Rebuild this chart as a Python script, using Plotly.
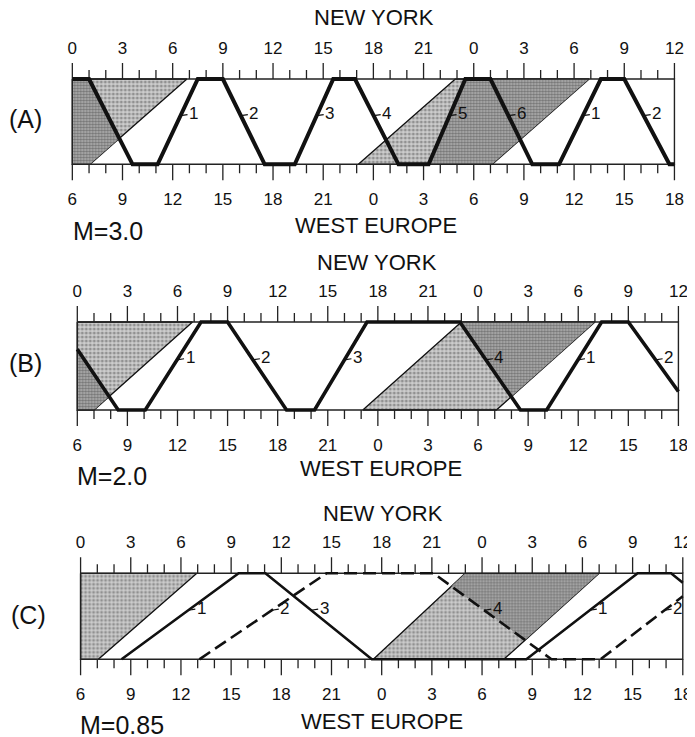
import plotly.graph_objects as go

W, H = 695, 737

# ---------------- data ----------------
tick_hours = list(range(0, 37))
major_hours = [0, 3, 6, 9, 12, 15, 18, 21, 24, 27, 30, 33, 36]
ny_tick_labels = ["0", "3", "6", "9", "12", "15", "18", "21", "0", "3", "6", "9", "12"]
we_tick_labels = ["6", "9", "12", "15", "18", "21", "0", "3", "6", "9", "12", "15", "18"]

panel_letters = ["(A)", "(B)", "(C)"]
mach_labels = ["M=3.0", "M=2.0", "M=0.85"]

# routes: x = New York local time (h), y = 1 at New York, 0 at West Europe
A_route_x = [-0.5, 1.0, 3.6, 5.1, 7.5, 9.0, 11.5, 13.3, 15.6, 16.9, 19.5, 21.3,
             23.5, 25.0, 27.5, 29.1, 31.6, 33.0, 35.7, 37.0]
A_route_y = [1, 1, 0, 0, 1, 1, 0, 0, 1, 1, 0, 0, 1, 1, 0, 0, 1, 1, 0, 0]
A_label_text = ["1", "2", "3", "4", "5", "6", "1", "2"]
A_label_seg = [3, 5, 7, 9, 11, 13, 15, 17]

B_route_x = [-1.1, 2.45, 4.07, 7.41, 9.0, 12.53, 14.21, 17.35, 22.91, 26.54,
             28.11, 31.4, 33.0, 36.8]
B_route_y = [1, 0, 0, 1, 1, 0, 0, 1, 1, 0, 0, 1, 1, 0]
B_label_text = ["1", "2", "3", "4", "1", "2"]
B_label_seg = [2, 4, 6, 8, 10, 12]

C_route_x = [2.45, 9.45, 11.05, 17.41, 26.65, 33.3, 35.3, 41.66]
C_route_y = [0, 1, 1, 0, 0, 1, 1, 0]
C_label_text = ["1", "3", "1"]
C_label_seg = [0, 2, 4]

C_dash_x = [7.1, 14.7, 21.1, 28.15, 31.08, 37.8]
C_dash_y = [0, 1, 1, 0, 0, 1]
C_dash_label_text = ["2", "4", "2"]
C_dash_label_seg = [0, 2, 4]

# night-restriction zones (parallelograms): NY edge start/end, Europe edge start/end
A_shade_top_start = [-1.1, 22.9]
A_shade_top_end = [6.85, 30.9]
A_shade_bot_start = [-6.9, 17.1]
A_shade_bot_end = [1.05, 25.1]

B_shade_top_start = [-1.0, 23.0]
B_shade_top_end = [6.9, 31.0]
B_shade_bot_start = [-6.9, 17.1]
B_shade_bot_end = [1.0, 25.1]

C_shade_top_start = [-1.0, 23.0]
C_shade_top_end = [6.95, 31.0]
C_shade_bot_start = [-6.6, 17.5]
C_shade_bot_end = [1.06, 25.3]

# darker parts of the zones: (zone index, route, segment index, side)
A_dark = [(0, "solid", 1, "left"), (1, "solid", 11, "right")]
B_dark = [(0, "solid", 0, "left"), (1, "solid", 8, "right")]
C_dark = [(1, "dash", 2, "right")]

panels = [
    dict(route=(A_route_x, A_route_y), dash=None,
         labels=[("solid", A_label_text, A_label_seg)],
         shade=(A_shade_top_start, A_shade_top_end, A_shade_bot_start, A_shade_bot_end),
         dark=A_dark),
    dict(route=(B_route_x, B_route_y), dash=None,
         labels=[("solid", B_label_text, B_label_seg)],
         shade=(B_shade_top_start, B_shade_top_end, B_shade_bot_start, B_shade_bot_end),
         dark=B_dark),
    dict(route=(C_route_x, C_route_y), dash=(C_dash_x, C_dash_y),
         labels=[("solid", C_label_text, C_label_seg), ("dash", C_dash_label_text, C_dash_label_seg)],
         shade=(C_shade_top_start, C_shade_top_end, C_shade_bot_start, C_shade_bot_end),
         dark=C_dark),
]

# ---------------- layout / style ----------------
# page body has an 8 px margin; positions below are target page pixels
OFF = 8.0
box_px = [
    dict(xl=72.7, xr=678.3, yt=79.0, yb=164.3),
    dict(xl=77.7, xr=682.3, yt=322.0, yb=410.0),
    dict(xl=81.0, xr=686.7, yt=573.3, yb=659.3),
]
line_widths = [4.0, 3.6, 2.6]
title_ny_px = [(376, 17), (379, 263), (385, 513)]
title_we_px = [(378, 225), (383, 468), (384, 721)]
mach_px = [(72, 231), (76, 476), (79, 725)]
letter_px = [(26, 119), (26, 363), (29, 615)]

XMIN, XMAX = 0.0, 36.0
PADX = 0.3
PADY = 19.0
MAJOR_LEN, MINOR_LEN = 16.0, 9.0
LABEL_Y = 0.57
INK = "#111111"

LIGHT_PAT = dict(shape=".", bgcolor="#cdcdcd", fgcolor="#555555", size=4, solidity=0.45)
DARK_PAT = dict(shape=".", bgcolor="#b0b0b0", fgcolor="#3a3a3a", size=3, solidity=0.5)

TICK_FONT = dict(family="Liberation Sans Narrow, Arial Narrow, Liberation Sans, sans-serif",
                 size=17, color=INK)
TITLE_FONT = dict(family="Liberation Sans, Arial, sans-serif", size=22, color=INK)
BIG_FONT = dict(family="Liberation Sans, Arial, sans-serif", size=25, color=INK)
NUM_FONT = dict(family="Liberation Sans, Arial, sans-serif", size=17, color=INK)


def clip_poly(pts, f):
    out = []
    n = len(pts)
    for i in range(n):
        cur, prev = pts[i], pts[i - 1]
        fc, fp = f(*cur), f(*prev)
        if fc >= 0:
            if fp < 0:
                t = fp / (fp - fc)
                out.append((prev[0] + t * (cur[0] - prev[0]), prev[1] + t * (cur[1] - prev[1])))
            out.append(cur)
        elif fp >= 0:
            t = fp / (fp - fc)
            out.append((prev[0] + t * (cur[0] - prev[0]), prev[1] + t * (cur[1] - prev[1])))
    return out


def clip_x(pts):
    pts = clip_poly(pts, lambda x, y: x - XMIN)
    if pts:
        pts = clip_poly(pts, lambda x, y: XMAX - x)
    return pts


def clip_polyline(xs, ys):
    ox, oy = [], []
    for i in range(len(xs) - 1):
        x0, y0, x1, y1 = xs[i], ys[i], xs[i + 1], ys[i + 1]
        if max(x0, x1) < XMIN or min(x0, x1) > XMAX:
            continue

        def at(xc):
            t = (xc - x0) / (x1 - x0)
            return y0 + t * (y1 - y0)
        a = (x0, y0)
        b = (x1, y1)
        if x0 < XMIN:
            a = (XMIN, at(XMIN))
        if x1 > XMAX:
            b = (XMAX, at(XMAX))
        if ox and ox[-1] == a[0] and oy[-1] == a[1]:
            ox.append(b[0]); oy.append(b[1])
        else:
            if ox:
                ox.append(None); oy.append(None)
            ox += [a[0], b[0]]; oy += [a[1], b[1]]
    return ox, oy


def seg_x_at(xs, ys, i, yv):
    x0, y0, x1, y1 = xs[i], ys[i], xs[i + 1], ys[i + 1]
    return x0 + (yv - y0) * (x1 - x0) / (y1 - y0)


def px_x(v):
    return (v - OFF) / W


def px_y(v):
    return 1 - (v - OFF) / H


fig = go.Figure()
layout = dict(width=W, height=H, margin=dict(l=0, r=0, t=0, b=0),
              paper_bgcolor="white", plot_bgcolor="rgba(0,0,0,0)", showlegend=False)
annotations = []

for k, (p, bp) in enumerate(zip(panels, box_px)):
    xb = "x" if k == 0 else f"x{2 * k + 1}"
    xt = f"x{2 * k + 2}"
    yy = "y" if k == 0 else f"y{k + 1}"
    hpx = bp["yb"] - bp["yt"]
    s = (bp["xr"] - bp["xl"]) / (XMAX - XMIN)
    dom_x = [px_x(bp["xl"] - PADX * s), px_x(bp["xr"] + PADX * s)]
    dom_y = [px_y(bp["yb"] + PADY), px_y(bp["yt"] - PADY)]
    yr = [-PADY / hpx, 1 + PADY / hpx]
    xr = [XMIN - PADX, XMAX + PADX]

    routes = {"solid": p["route"]}
    if p["dash"] is not None:
        routes["dash"] = p["dash"]

    # shaded zones
    ts, te, bs, be = p["shade"]
    polys = []
    for j in range(len(ts)):
        poly = [(ts[j], 1), (te[j], 1), (be[j], 0), (bs[j], 0)]
        polys.append(poly)
        cp = clip_x(poly)
        if cp:
            fig.add_trace(go.Scatter(
                x=[q[0] for q in cp] + [cp[0][0]], y=[q[1] for q in cp] + [cp[0][1]],
                mode="lines", fill="toself", fillcolor="#cdcdcd", fillpattern=LIGHT_PAT,
                line=dict(color=INK, width=1.3), xaxis=xb, yaxis=yy, hoverinfo="skip"))
    for (zi, rname, si, side) in p["dark"]:
        rx, ry = routes[rname]
        x0, y0, x1, y1 = rx[si], ry[si], rx[si + 1], ry[si + 1]

        def fside(x, y, x0=x0, y0=y0, x1=x1, y1=y1, side=side):
            xl = x0 + (y - y0) * (x1 - x0) / (y1 - y0)
            return (x - xl) if side == "right" else (xl - x)
        cp = clip_poly(polys[zi], fside)
        cp = clip_x(cp) if cp else cp
        if cp:
            fig.add_trace(go.Scatter(
                x=[q[0] for q in cp] + [cp[0][0]], y=[q[1] for q in cp] + [cp[0][1]],
                mode="lines", fill="toself", fillcolor="#b0b0b0", fillpattern=DARK_PAT,
                line=dict(width=0), xaxis=xb, yaxis=yy, hoverinfo="skip"))

    # frame and ticks
    tx, ty = [], []
    for hr in tick_hours:
        ln = MAJOR_LEN if hr in major_hours else MINOR_LEN
        tx += [hr, hr, None, hr, hr, None]
        ty += [1, 1 + ln / hpx, None, 0, -ln / hpx, None]
    fig.add_trace(go.Scatter(x=tx, y=ty, mode="lines", line=dict(color="#222", width=1.3),
                             xaxis=xb, yaxis=yy, hoverinfo="skip"))
    fig.add_trace(go.Scatter(x=[XMIN, XMAX, XMAX, XMIN, XMIN], y=[1, 1, 0, 0, 1], mode="lines",
                             line=dict(color="#222", width=1.4), xaxis=xb, yaxis=yy,
                             hoverinfo="skip"))

    # routes
    for rname, (rx, ry) in routes.items():
        cx, cy = clip_polyline(rx, ry)
        fig.add_trace(go.Scatter(
            x=cx, y=cy, mode="lines",
            line=dict(color=INK, width=line_widths[k],
                      dash="solid" if rname == "solid" else "13px,6px"),
            xaxis=xb, yaxis=yy, hoverinfo="skip"))

    # route numbers
    for (rname, texts, segs) in p["labels"]:
        rx, ry = routes[rname]
        for t, si in zip(texts, segs):
            xv = seg_x_at(rx, ry, si, LABEL_Y)
            annotations.append(dict(x=xv, y=LABEL_Y, xref=xb, yref=yy, text=t,
                                    showarrow=True, arrowhead=0, arrowwidth=1.2,
                                    arrowcolor=INK, ax=13, ay=-2, standoff=0,
                                    font=NUM_FONT))

    # dummy trace for top axis
    fig.add_trace(go.Scatter(x=[None], y=[None], xaxis=xt, yaxis=yy, hoverinfo="skip"))

    common = dict(range=xr, domain=dom_x, showgrid=False, zeroline=False, showline=False,
                  ticks="", tickmode="array", tickvals=major_hours, tickfont=TICK_FONT,
                  fixedrange=True)
    layout["xaxis" if k == 0 else f"xaxis{2 * k + 1}"] = dict(
        common, anchor=yy, side="bottom", ticktext=we_tick_labels, ticklabelstandoff=4)
    layout[f"xaxis{2 * k + 2}"] = dict(
        common, anchor=yy, side="top", overlaying=xb, ticktext=ny_tick_labels,
        ticklabelstandoff=2)
    layout["yaxis" if k == 0 else f"yaxis{k + 1}"] = dict(
        range=yr, domain=dom_y, visible=False, fixedrange=True)

    # texts
    annotations.append(dict(x=px_x(title_ny_px[k][0]), y=px_y(title_ny_px[k][1]), xref="paper",
                            yref="paper", text="NEW YORK", showarrow=False, font=TITLE_FONT,
                            xanchor="center", yanchor="middle", borderpad=0))
    annotations.append(dict(x=px_x(title_we_px[k][0]), y=px_y(title_we_px[k][1]), xref="paper",
                            yref="paper", text="WEST EUROPE", showarrow=False, font=TITLE_FONT,
                            xanchor="center", yanchor="middle", borderpad=0))
    annotations.append(dict(x=px_x(mach_px[k][0]), y=px_y(mach_px[k][1]), xref="paper",
                            yref="paper", text=mach_labels[k], showarrow=False, font=BIG_FONT,
                            xanchor="left", yanchor="middle", borderpad=0))
    annotations.append(dict(x=px_x(letter_px[k][0]), y=px_y(letter_px[k][1]), xref="paper",
                            yref="paper", text=panel_letters[k], showarrow=False, font=BIG_FONT,
                            xanchor="center", yanchor="middle", borderpad=0))

layout["annotations"] = annotations
fig.update_layout(**layout)
fig.write_html("out.html")
